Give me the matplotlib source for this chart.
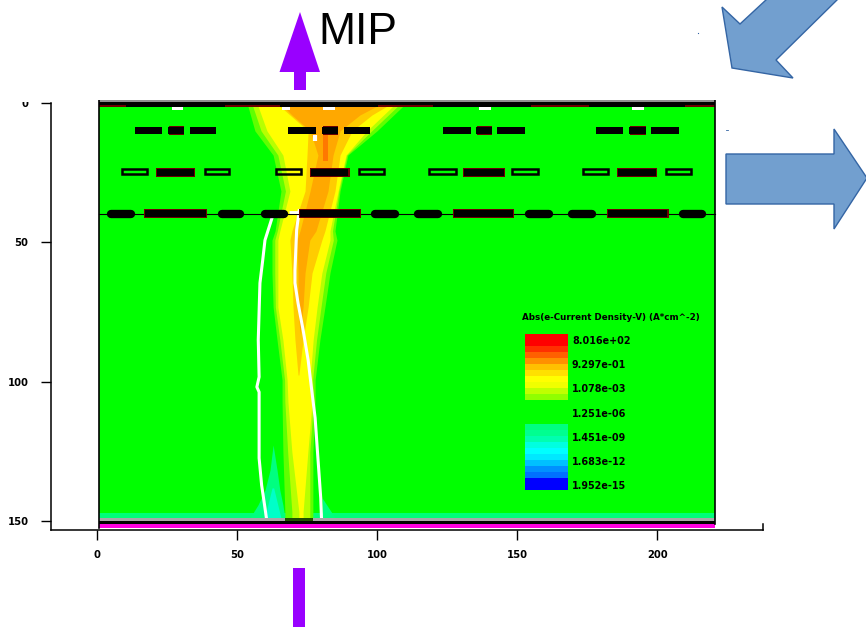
import numpy as np
import matplotlib
matplotlib.use("Agg")
import matplotlib.pyplot as plt
from matplotlib.patches import Polygon, Rectangle
from matplotlib.transforms import Bbox

W, H = 866, 627

# ---- tick labels
x_ticks = [0, 50, 100, 150, 200]
y_ticks = [0, 50, 100, 150]

# ---- sensor structures, x ranges in device units
row1_bars = [(13.5, 23.3), (33.1, 42.4), (68.1, 78.0), (88.0, 97.5),
             (123.4, 133.4), (142.8, 152.8), (178.0, 187.8), (197.8, 207.7)]
row1_small = [(25.3, 31.0), (80.2, 86.0), (135.1, 141.0), (189.9, 195.8)]
row2_hollow = [(8.7, 18.0), (38.1, 47.4), (63.5, 73.1), (93.0, 102.6),
               (118.1, 128.4), (147.8, 157.8), (173.1, 182.8), (202.8, 212.4)]
row2_dark = [(21.0, 34.9), (76.0, 90.2), (130.6, 145.6), (185.6, 199.9)]
row3_pills = [(3.5, 13.5), (43.1, 52.4), (58.5, 68.1), (97.8, 107.8),
              (113.1, 123.1), (152.8, 162.8), (168.1, 178.1), (207.8, 217.4)]
row3_dark = [(16.7, 39.2), (72.0, 94.2), (127.0, 148.8), (182.0, 204.0)]
top_red = [(0.8, 10.4), (45.5, 65.1), (100.2, 119.9), (155.0, 175.6), (210.0, 220.4)]
top_white = [(26.7, 30.7), (66.0, 69.0), (80.6, 84.9), (136.3, 140.6), (191.0, 195.3)]

# ---- current plume, band edges per depth
plume_depth = [1.1, 10.0, 18.7, 31.6, 45.9, 49.2, 61.0, 73.2, 85.0, 99.4, 107.3, 125.2, 146.7, 149.6]
green_l = [53.8, 56.3, 62.8, 65.6, 63.5, 62.4, 62.4, 62.8, 64.2, 66.0, 66.0, 66.3, 67.0, 67.0]
green_r = [109.2, 99.9, 89.5, 86.7, 84.9, 85.6, 83.1, 81.3, 79.5, 77.8, 77.8, 77.0, 77.0, 77.0]
lime_l = [55.5, 58.5, 64.5, 67.2, 64.3, 63.4, 63.4, 63.6, 65.2, 66.9, 67.0, 68.0, 69.5, 69.5]
lime_r = [107.3, 98.0, 89.1, 86.3, 84.0, 84.3, 81.6, 79.9, 78.3, 76.9, 77.2, 75.9, 75.9, 75.9]
yellow_l = [57.4, 60.6, 66.3, 68.8, 65.2, 64.5, 64.5, 64.5, 66.3, 67.8, 68.1, 69.5, 72.0, 72.0]
yellow_r = [105.6, 96.3, 88.8, 86.0, 83.1, 83.1, 80.2, 78.5, 77.1, 76.0, 76.7, 75.2, 73.5, 73.5]

amber_depth = [1.1, 4.3, 10.0, 18.7, 31.6, 45.9, 49.2, 61.0, 73.2, 85.0, 97.6]
amber_l = [65.2, 68.8, 75.3, 74.9, 74.2, 69.5, 68.8, 69.5, 69.9, 70.6, 71.7]
amber_r = [103.5, 98.1, 91.0, 86.7, 84.9, 81.3, 80.2, 76.7, 75.3, 73.5, 72.0]

orange_depth = [1.1, 4.3, 10.0, 18.7, 31.6, 45.9, 49.2, 61.0, 73.2, 83.0]
orange_l = [66.3, 69.5, 76.0, 78.8, 76.0, 72.4, 71.3, 71.7, 71.7, 72.4]
orange_r = [99.9, 93.8, 86.7, 84.2, 82.4, 78.1, 75.9, 74.2, 73.5, 72.4]

core_depth = [9.7, 20.7]
core_l = [80.6, 80.6]
core_r = [82.4, 82.4]

teal_depth = [122.7, 131.7, 138.9, 144.2, 148.9]
teal_l = [62.8, 61.7, 59.9, 57.4, 54.5]
teal_r = [62.8, 64.2, 65.2, 66.3, 67.0]
cyan_depth = [138.1, 148.9]
cyan_l = [62.4, 59.8]
cyan_r = [63.0, 65.6]
teal2_depth = [141.7, 148.9]
teal2_l = [80.3, 80.3]
teal2_r = [80.3, 85.0]

# ---- white contour lines
contour_l_x = [62.3, 59.9, 59.1, 58.1, 57.5, 57.8, 57.0, 57.8, 57.8, 58.7, 59.9, 60.5]
contour_l_y = [41.6, 49.2, 56.3, 64.6, 85.0, 98.3, 101.9, 103.7, 127.4, 137.1, 145.3, 149.6]
contour_r_x = [72.1, 71.2, 70.6, 70.6, 71.7, 73.5, 75.3, 76.5, 77.8, 78.8, 79.8, 80.1]
contour_r_y = [38.6, 45.6, 60.0, 64.6, 71.8, 81.4, 92.2, 102.3, 113.0, 127.4, 141.7, 149.6]

# ---- colour legend
legend_title = "Abs(e-Current Density-V) (A*cm^-2)"
legend_labels = ["8.016e+02", "9.297e-01", "1.078e-03", "1.251e-06", "1.451e-09", "1.683e-12", "1.952e-15"]
legend_colors = ["#ff0000", "#ff0000", "#ff3000", "#ff6000", "#ff9000", "#ffc000", "#ffe000",
                 "#ffff00", "#f0ff00", "#c0ff00", "#90ff00", "#00ff00", "#00ff00", "#00ff00",
                 "#00ff00", "#00ff80", "#00ff90", "#00ffb0", "#00ffe0", "#00ffff", "#00e8ff",
                 "#00c0ff", "#0090ff", "#0070ff", "#0000ff", "#0000ff"]

GREEN = "#00ff00"
DARK_RED = "#6e0000"
X0, X1 = 0.8, 220.4
CAP = 1.4  # round end of the pills

fig = plt.figure(figsize=(W / 100, H / 100), dpi=100)
ax = fig.add_axes([51 / W, 1 - 530 / H, (762.7 - 51) / W, (530 - 100.2) / H])
ax.set_xlim(-16.5, 237.6)
ax.set_ylim(153.2, -1.0)

for s in ["top", "right"]:
    ax.spines[s].set_visible(False)
ax.spines["left"].set_bounds(0, 153.2)
ax.spines["left"].set_linewidth(1.1)
ax.spines["bottom"].set_linewidth(1.1)
ax.set_xticks(x_ticks)
ax.set_yticks(y_ticks)
ax.tick_params(axis="x", length=7.2, width=1, pad=7.5, labelsize=7.2)
ax.tick_params(axis="y", length=7.2, width=1, pad=9, labelsize=7.2)
ax.plot([237.6, 237.6], [153.2, 151.0], color="black", lw=1.1, clip_on=False)

# the 0 label is cut off at the top in the original
for lab in ax.get_xticklabels() + ax.get_yticklabels():
    lab.set_fontweight("bold")
for lab in ax.get_yticklabels():
    if lab.get_text() == "0":
        lab.set_clip_on(True)
        lab.set_clip_box(Bbox([[0, 0], [W, H - 102]]))

# field background and bottom layers
ax.add_patch(Rectangle((X0, 0), X1 - X0, 149.0, color=GREEN, lw=0, zorder=1))
ax.add_patch(Rectangle((X0, 147.1), X1 - X0, 1.9, color="#00ff78", lw=0, zorder=1.1))


def band(depth, left, right, color, z):
    ax.fill_betweenx(depth, left, right, color=color, lw=0, zorder=z)


band(teal_depth, teal_l, teal_r, "#00ff80", 1.2)
band(cyan_depth, cyan_l, cyan_r, "#00ffc8", 1.3)
band(teal2_depth, teal2_l, teal2_r, "#00ff80", 1.2)
band(plume_depth, green_l, green_r, "#60ff00", 2)
band(plume_depth, lime_l, lime_r, "#b8ff00", 2.5)
band(plume_depth, yellow_l, yellow_r, "#ffff00", 3)
band(amber_depth, amber_l, amber_r, "#ffcc00", 4)
band(orange_depth, orange_l, orange_r, "#ffa800", 5)
band(core_depth, core_l, core_r, "#ff7800", 6)

# contours
ax.plot(contour_l_x, contour_l_y, color="white", lw=2.2, zorder=7)
ax.plot(contour_r_x, contour_r_y, color="white", lw=2.2, zorder=7)
ax.plot([77.6, 77.6], [11.5, 13.8], color="white", lw=3, zorder=7, solid_capstyle="butt")
ax.plot([68.5, 72.5], [39.2, 39.2], color="white", lw=2, zorder=9, solid_capstyle="butt")
for a, b in top_white:
    ax.add_patch(Rectangle((a, 1.4), b - a, 1.0, color="white", lw=0, zorder=7))

# bottom electrode
ax.add_patch(Rectangle((X0, 149.0), X1 - X0, 0.9, color="#a8a8a8", lw=0, zorder=8))
ax.add_patch(Rectangle((67.0, 148.9), 10.0, 1.0, color="#205000", lw=0, zorder=8.1))
ax.add_patch(Rectangle((X0, 149.9), X1 - X0, 1.3, color="black", lw=0, zorder=8))
ax.add_patch(Rectangle((X0, 151.2), X1 - X0, 1.4, color="#ff00e0", lw=0, zorder=8))

# top electrode
ax.add_patch(Rectangle((X0, -0.9), X1 - X0, 0.4, color="#909090", lw=0, zorder=8))
ax.add_patch(Rectangle((X0, -0.5), X1 - X0, 1.9, color="black", lw=0, zorder=8))
for a, b in top_red:
    ax.add_patch(Rectangle((a, 0.9), b - a, 0.6, color=DARK_RED, lw=0, zorder=8.1))

# row 1
for a, b in row1_bars:
    ax.add_patch(Rectangle((a, 8.6), b - a, 2.6, color="black", lw=0, zorder=9))
for a, b in row1_small:
    ax.add_patch(Rectangle((a + 0.5, 8.2), b - a - 0.5, 3.3, color=DARK_RED, lw=0, zorder=9))
    ax.add_patch(Rectangle((a, 8.7), b - a, 2.3, color="black", lw=0, zorder=9.1))

# row 2
for a, b in row2_hollow:
    ax.add_patch(Rectangle((a + 0.3, 23.8), b - a - 0.6, 1.7, fc="none", ec="black", lw=1.8, zorder=9))
for a, b in row2_dark:
    ax.add_patch(Rectangle((a, 23.5), b - a, 3.1, color=DARK_RED, lw=0, zorder=9))
    ax.add_patch(Rectangle((a + 0.5, 23.8), b - a - 1.0, 2.4, color="black", lw=0, zorder=9.1))

# row 3
ax.plot([X0, X1], [39.9, 39.9], color="black", lw=0.8, zorder=8.5)
for a, b in row3_pills:
    ax.plot([a + CAP, b - CAP], [39.7, 39.7], color="black", lw=6, solid_capstyle="round", zorder=9)
for a, b in row3_dark:
    ax.add_patch(Rectangle((a, 38.0), b - a, 3.2, color=DARK_RED, lw=0, zorder=9))
    ax.add_patch(Rectangle((a + 0.4, 38.3), b - a - 0.8, 2.6, color="black", lw=0, zorder=9.1))

# frame of the field
ax.plot([X0, X0], [-0.9, 152.6], color="black", lw=1.2, zorder=10)
ax.plot([X1, X1], [-0.9, 151.0], color="black", lw=1.2, zorder=10)

# colour legend
cell = (138.9 - 82.9) / len(legend_colors)
for i, c in enumerate(legend_colors):
    ax.add_patch(Rectangle((152.7, 82.9 + i * cell), 15.4, cell, color=c, lw=0, zorder=11))
ax.text(151.7, 76.8, legend_title, fontsize=6.3, fontweight="bold", va="center", ha="left", zorder=11)
for i, t in enumerate(legend_labels):
    ax.text(169.5, 85.4 + i * 8.67, t, fontsize=6.9, fontweight="bold", va="center", ha="left", zorder=11)

# annotations drawn over the plot, in picture pixels
over = fig.add_axes([0, 0, 1, 1], facecolor="none")
over.set_xlim(0, W)
over.set_ylim(H, 0)
over.axis("off")

purple = "#9900ff"
over.add_patch(Polygon([(300, 12), (320, 72), (306, 72), (306, 90), (294, 90), (294, 72), (279.5, 72)],
                       closed=True, fc=purple, ec="none"))
over.add_patch(Rectangle((293, 568), 12, 59, fc=purple, ec="none"))
over.text(318, 43.5, "MIP", fontsize=32, family="Liberation Sans", color="black", va="baseline", ha="left")

blue = "#729fcf"
edge = "#3465a4"
over.add_patch(Polygon([(722, 7), (740, 24), (767, -1), (838, -1), (776, 60), (793, 78), (732, 68)],
                       closed=True, fc=blue, ec=edge, lw=1))
over.add_patch(Polygon([(726, 154), (834, 154), (834, 129), (867, 178), (834, 229), (834, 204), (726, 204)],
                       closed=True, fc=blue, ec=edge, lw=1))
over.plot([697.5], [32.5], marker="s", ms=0.8, color=edge, mew=0)
over.plot([726, 727.5], [129.5, 129.5], color=edge, lw=0.6)

fig.savefig("out.png", dpi=100)
